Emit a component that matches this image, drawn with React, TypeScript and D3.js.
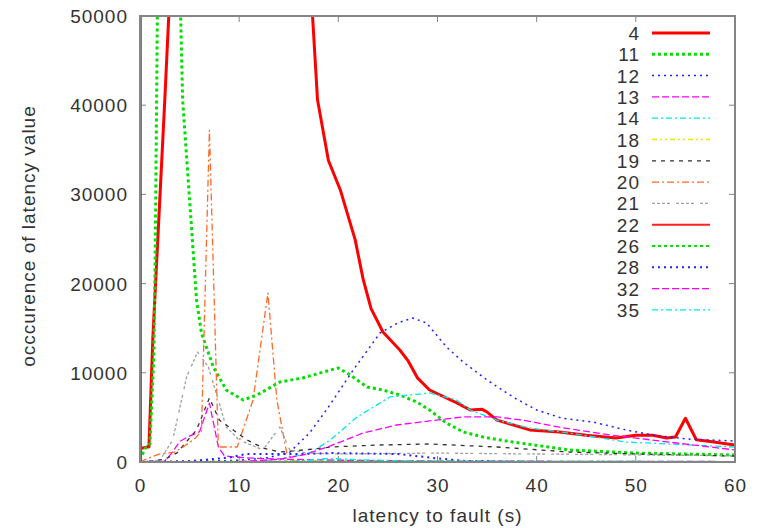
import React from "react";
import * as d3 from "d3";

const W = 767;
const H = 528;
const margin = { left: 140, right: 32, top: 16, bottom: 66 };

const xTicks = [0, 10, 20, 30, 40, 50, 60];
const yTicks = [0, 10000, 20000, 30000, 40000, 50000];
const xLabel = "latency to fault (s)";
const yLabel = "occcurence of latency value";

type Pt = [number, number];

const s4: Pt[] = [[0, 1500], [0.9, 1700], [1.3, 14000], [2.5, 40600], [2.9, 50000], [3.3, 62000], [6, 150000], [15, 150000], [17.4, 50000], [17.9, 40600], [19, 33800], [20.2, 30500], [21.7, 24900], [22.5, 20500], [23.3, 17200], [24.5, 14570], [26.2, 12560], [27, 11400], [28, 9400], [29.2, 8070], [32, 6600], [33.3, 5830], [34.5, 5900], [35, 5600], [36, 4700], [39.3, 3600], [42.3, 3360], [45, 3000], [48, 2700], [50, 3000], [51.7, 3000], [53.1, 2700], [54, 2800], [55, 4900], [56.1, 2500], [57.5, 2300], [60, 1900]];
const s11: Pt[] = [[0, 200], [0.5, 1500], [1.0, 2000], [1.4, 12000], [1.55, 25000], [1.75, 50000], [1.9, 75000], [3.6, 75000], [4.1, 50000], [4.3, 40600], [5.0, 29400], [5.7, 18160], [6.2, 14460], [7.4, 10650], [8.7, 8070], [10.4, 6950], [11.8, 7510], [14.1, 8970], [16.4, 9420], [19.2, 10310], [20, 10540], [21.2, 9750], [22.9, 8410], [24.5, 8070], [26.2, 7510], [27.9, 6730], [29.2, 5830], [30.9, 4370], [32.6, 3360], [34.6, 2800], [37.6, 2240], [43.3, 1350], [50, 1000], [60, 785]];
const s12: Pt[] = [[0, 0], [5, 50], [10, 200], [13, 500], [15.1, 1100], [17.1, 3250], [18.9, 6000], [21.5, 10310], [24.2, 14460], [26, 15600], [27.5, 16140], [28.9, 15580], [30.9, 12900], [32.6, 11200], [35, 9190], [37.6, 7290], [40, 5830], [42.5, 4930], [45.7, 4480], [49, 3590], [51.7, 3030], [55.1, 2580], [60, 2350]];
const s13: Pt[] = [[0, 0], [2.5, 100], [3.2, 1000], [4, 2300], [4.8, 2800], [6, 3400], [7, 6600], [7.9, 1700], [8.5, 700], [9.5, 550], [12, 400], [15, 300], [20, 200], [30, 100], [60, 50]];
const s14: Pt[] = [[0, 0], [12, 50], [14, 300], [17.1, 1000], [19.2, 2470], [21.9, 5050], [25.2, 7290], [29.2, 7740], [31.9, 6950], [33.3, 5830], [36, 4700], [39.3, 3810], [43.3, 3250], [49, 2240], [60, 1680]];
const s18: Pt[] = [[0, 0], [10, 80], [20, 50], [60, 0]];
const s19: Pt[] = [[0, 0], [2.5, 300], [3.7, 1000], [5.7, 3590], [7, 7180], [8, 4700], [9.4, 3590], [10.8, 2470], [12.4, 1570], [14.1, 1120], [17, 1400], [19.2, 1680], [24, 1900], [29.2, 2020], [36, 1680], [43.3, 1120], [50, 900], [60, 670]];
const s20: Pt[] = [[0, 0], [1, 500], [2, 900], [3.5, 1100], [4.5, 1800], [5.6, 2700], [6.2, 3500], [7, 37200], [7.9, 1680], [9.8, 1680], [11.4, 6950], [12.9, 18950], [13.8, 6950], [14.8, 1000], [15.5, 100], [20, 0], [60, 0]];
const s21: Pt[] = [[0, 0], [2, 200], [3.3, 2470], [4.7, 9530], [5.8, 12330], [6.9, 10650], [7.8, 7290], [8.7, 3920], [10, 2470], [12.4, 1350], [14.1, 3920], [15.1, 1350], [17, 1000], [20, 900], [30, 1000], [40, 900], [50, 800], [60, 700]];
const s22: Pt[] = [[0, 300000], [0.1, 0], [60, 0]];
const s26: Pt[] = [[0, 0], [20, 60], [60, 0]];
const s28: Pt[] = [[0, 0], [5, 100], [9, 500], [10.7, 900], [16.5, 900], [19.2, 1000], [26, 900], [30, 400], [33, 100], [40, 0], [60, 0]];
const s32: Pt[] = [[0, 0], [10, 50], [14, 300], [16.5, 800], [19.2, 1800], [22.5, 3250], [25.9, 4150], [29.9, 4700], [32.6, 5050], [36, 5050], [38.6, 4700], [42.3, 3900], [47.4, 3030], [54.1, 2130], [60, 1350]];
const s35: Pt[] = [[0, 0], [15, 0], [19, 400], [22, 250], [28, 100], [60, 50]];

const seriesNames = ["4", "11", "12", "13", "14", "18", "19", "20", "21", "22", "26", "28", "32", "35"];
const seriesData = [s4, s11, s12, s13, s14, s18, s19, s20, s21, s22, s26, s28, s32, s35];

const styles = [
  { c: "#ff0000", w: 3, d: "" },
  { c: "#00e000", w: 3, d: "3,3" },
  { c: "#2020ff", w: 1.5, d: "2,4" },
  { c: "#ff00ff", w: 1.3, d: "7,3" },
  { c: "#00e8e8", w: 1.3, d: "6,3,2,3" },
  { c: "#e8e800", w: 1.3, d: "5,3,2,3,2,3" },
  { c: "#303030", w: 1.3, d: "4,5" },
  { c: "#ff6a2a", w: 1.3, d: "7,3,2,3" },
  { c: "#a0a0a0", w: 1.3, d: "3,2,3,2,3,2,3,6" },
  { c: "#ff2020", w: 2, d: "" },
  { c: "#00e000", w: 2, d: "3,3" },
  { c: "#2020ff", w: 2, d: "2,4" },
  { c: "#ff00ff", w: 1.3, d: "7,3" },
  { c: "#00e8e8", w: 1.3, d: "6,3,2,3" },
];

export default function App() {
  const x = d3.scaleLinear().domain([0, 60]).range([margin.left, W - margin.right]);
  const y = d3.scaleLinear().domain([0, 50000]).range([H - margin.bottom, margin.top]);
  const line = d3.line<Pt>().x((p) => x(p[0])).y((p) => y(p[1]));
  const x0 = x(0), x1 = x(60), y0 = y(0), y1 = y(50000);
  const font = "'Liberation Sans', Arial, sans-serif";
  const txt = "#333";
  const border = "#858585";
  const fs = 19;
  const ls = 1;
  const legendTextX = 640;
  const legendLineX0 = 652;
  const legendLineX1 = 710;
  const legendY0 = 33;
  const legendDy = 21.3;
  return (
    <svg width={W} height={H} style={{ position: "absolute", left: 0, top: 0, background: "#fff" }}>
      <defs>
        <clipPath id="plotclip">
          <rect x={x0} y={y1} width={x1 - x0} height={y0 - y1} />
        </clipPath>
      </defs>
      <rect x={0} y={0} width={W} height={H} fill="#fff" />
      {xTicks.map((t) => (
        <g key={"xt" + t}>
          <line x1={x(t)} x2={x(t)} y1={y0} y2={y0 - 6} stroke={border} strokeWidth={1} />
          <line x1={x(t)} x2={x(t)} y1={y1} y2={y1 + 6} stroke={border} strokeWidth={1} />
          <text x={x(t) + ls / 2} y={y0 + 30} textAnchor="middle" fontFamily={font} fontSize={fs} letterSpacing={ls} fill={txt}>{t}</text>
        </g>
      ))}
      {yTicks.map((t) => (
        <g key={"yt" + t}>
          <line x1={x0} x2={x0 + 6} y1={y(t)} y2={y(t)} stroke={border} strokeWidth={1} />
          <line x1={x1} x2={x1 - 6} y1={y(t)} y2={y(t)} stroke={border} strokeWidth={1} />
          <text x={128} y={y(t) + 7} textAnchor="end" fontFamily={font} fontSize={fs} letterSpacing={ls} fill={txt}>{t}</text>
        </g>
      ))}
      <g clipPath="url(#plotclip)">
        {seriesData.map((s, i) => (
          <path key={"s" + i} d={line(s) || ""} fill="none" stroke={styles[i].c} strokeWidth={styles[i].w} strokeDasharray={styles[i].d || undefined} strokeLinejoin="round" />
        ))}
      </g>
      <rect x={x0} y={y1} width={x1 - x0} height={y0 - y1} fill="none" stroke={border} strokeWidth={2} />
      {seriesNames.map((n, i) => (
        <g key={"lg" + n}>
          <text x={legendTextX} y={legendY0 + i * legendDy + 7} textAnchor="end" fontFamily={font} fontSize={fs} letterSpacing={ls} fill={txt}>{n}</text>
          <line x1={legendLineX0} x2={legendLineX1} y1={legendY0 + i * legendDy} y2={legendY0 + i * legendDy} stroke={styles[i].c} strokeWidth={styles[i].w} strokeDasharray={styles[i].d || undefined} />
        </g>
      ))}
      <text x={(x0 + x1) / 2} y={522} textAnchor="middle" fontFamily={font} fontSize={fs} letterSpacing={ls} fill={txt}>{xLabel}</text>
      <text transform={`translate(35, ${(y0 + y1) / 2 - 3}) rotate(-90)`} textAnchor="middle" fontFamily={font} fontSize={fs} letterSpacing={ls} fill={txt}>{yLabel}</text>
    </svg>
  );
}
